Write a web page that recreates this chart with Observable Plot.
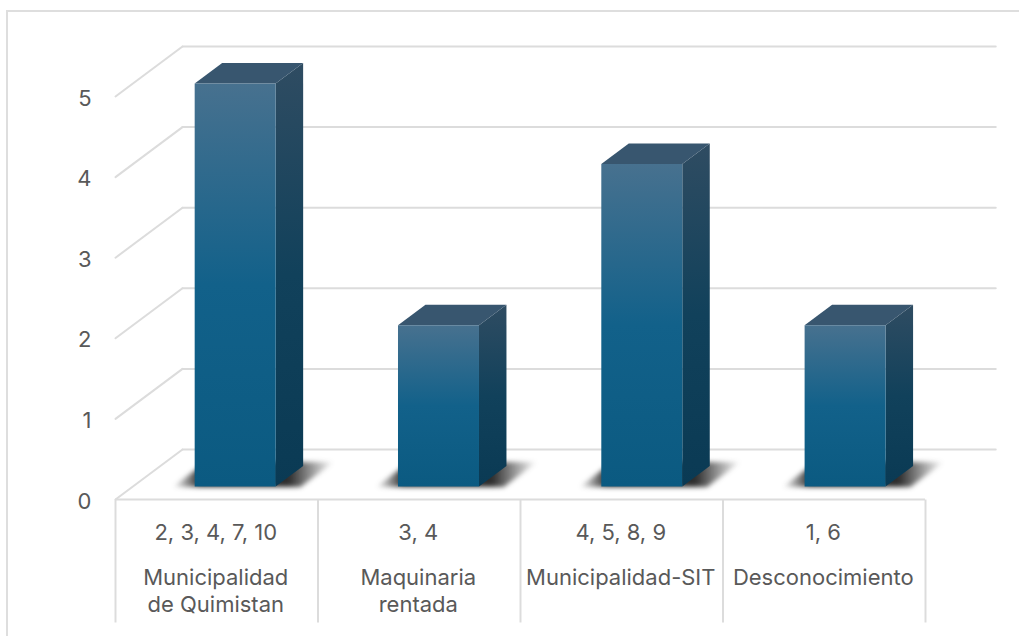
<!DOCTYPE html>
<html lang="es">
<head>
<meta charset="utf-8">
<script src="https://cdn.jsdelivr.net/npm/d3@7"></script>
<script src="https://cdn.jsdelivr.net/npm/@observablehq/plot@0.6"></script>
<style>
  html, body { margin: 0; padding: 0; background: #fff; }
  #chart { position: relative; width: 1019px; height: 636px; overflow: hidden; }
  #chart::before {
    content: ""; position: absolute; left: 6px; top: 10px; right: -4px; bottom: -4px;
    border: 2px solid #dedede;
  }
  #chart svg { position: absolute; left: 0; top: 0; }
</style>
</head>
<body>
<div id="chart"></div>
<script>
// Respuestas por fuente de información
const categories = ["Municipalidad\nde Quimistan", "Maquinaria\nrentada", "Municipalidad-SIT", "Desconocimiento"];
const respondents = ["2, 3, 4, 7, 10", "3, 4", "4, 5, 8, 9", "1, 6"];
const counts = [5, 2, 4, 2];
const valueTicks = [0, 1, 2, 3, 4, 5];

const font = "Inter, 'Noto Sans', sans-serif";
const ink = "#595959";
const gridColor = "#dcdcdc";
const textSize = 22;

const xRange = [115, 925];
const yRange = [499, 96];
const xUnit = (xRange[1] - xRange[0]) / categories.length;
const yUnit = (yRange[0] - yRange[1]) / 5;

// Oblique projection: a point at depth z (0 = front, 1 = back wall) in data units.
const depthX = 67 / xUnit;
const depthY = 50 / yUnit;
const at = (x, y, z) => ({x: x + z * depthX, y: y + z * depthY});

const polygon = (id, corners) => corners.map(([x, y, z]) => ({id, ...at(x, y, z)}));

// Bars sit on a slightly wider pitch than the table cells below them.
const barStep = 1.004;
const barLeft = 0.305, barRight = 0.705, zFront = 0.26, zBack = 0.67;
const slot = (i) => i * barStep;

const fronts = counts.flatMap((v, i) => polygon(i, [
  [slot(i) + barLeft, 0, zFront], [slot(i) + barRight, 0, zFront],
  [slot(i) + barRight, v, zFront], [slot(i) + barLeft, v, zFront]
]));
const sides = counts.flatMap((v, i) => polygon(i, [
  [slot(i) + barRight, 0, zFront], [slot(i) + barRight, 0, zBack],
  [slot(i) + barRight, v, zBack], [slot(i) + barRight, v, zFront]
]));
const tops = counts.flatMap((v, i) => polygon(i, [
  [slot(i) + barLeft, v, zFront], [slot(i) + barRight, v, zFront],
  [slot(i) + barRight, v, zBack], [slot(i) + barLeft, v, zBack]
]));
const shadows = counts.flatMap((v, i) => polygon(i, [
  [slot(i) + 0.2, 0, 0.25], [slot(i) + 0.83, 0, 0.25],
  [slot(i) + 0.83, 0, 0.75], [slot(i) + 0.2, 0, 0.75]
]));

// Back wall gridlines and the receding lines on the left wall.
const wallEnd = categories.length * barStep;
const wallLines = valueTicks.flatMap((v) => [
  {id: `w${v}`, ...at(0, v, 1)}, {id: `w${v}`, ...at(wallEnd, v, 1)}
]);
const sideLines = valueTicks.flatMap((v) => [
  {id: `s${v}`, ...at(0, v, 0)}, {id: `s${v}`, ...at(0, v, 1)}
]);

const svgDefs = () => {
  const g = document.createElementNS("http://www.w3.org/2000/svg", "defs");
  g.innerHTML = `
    <linearGradient id="faceFill" x1="0" y1="0" x2="0" y2="1">
      <stop offset="0" stop-color="#47718f"/>
      <stop offset="0.5" stop-color="#12618a"/>
      <stop offset="1" stop-color="#0b5a81"/>
    </linearGradient>
    <linearGradient id="sideFill" x1="0" y1="0" x2="0" y2="1">
      <stop offset="0" stop-color="#2f4c62"/>
      <stop offset="0.5" stop-color="#11415b"/>
      <stop offset="1" stop-color="#0a3a54"/>
    </linearGradient>
    <linearGradient id="shadowFill" x1="0" y1="0" x2="1" y2="0">
      <stop offset="0" stop-color="#222" stop-opacity="0"/>
      <stop offset="0.17" stop-color="#222" stop-opacity="0.95"/>
      <stop offset="0.72" stop-color="#222" stop-opacity="0.95"/>
      <stop offset="1" stop-color="#222" stop-opacity="0"/>
    </linearGradient>`;
  return g;
};

const chart = Plot.plot({
  width: 1019,
  height: 636,
  margin: 0,
  x: {type: "linear", domain: [0, categories.length], range: xRange, axis: null},
  y: {type: "linear", domain: [0, 5], range: yRange, axis: null},
  style: {background: "transparent", fontFamily: font},
  marks: [
    svgDefs,
    Plot.line(wallLines, {x: "x", y: "y", z: "id", stroke: gridColor, strokeWidth: 2}),
    Plot.line(sideLines, {x: "x", y: "y", z: "id", stroke: gridColor, strokeWidth: 2}),

    // Category table under the floor
    Plot.ruleY([0], {x1: 0, x2: categories.length, stroke: gridColor, strokeWidth: 2}),
    Plot.link(d3.range(categories.length + 1), {
      x1: (d) => d, x2: (d) => d, y1: () => 0, y2: () => -123 / yUnit,
      stroke: gridColor, strokeWidth: 2
    }),

    // Bars
    Plot.line(shadows, {x: "x", y: "y", z: "id", fill: "url(#shadowFill)", stroke: "none", imageFilter: "blur(2.5px)"}),
    Plot.line(sides, {x: "x", y: "y", z: "id", fill: "url(#sideFill)", stroke: "none"}),
    Plot.line(tops, {x: "x", y: "y", z: "id", fill: "#38566f", stroke: "none"}),
    Plot.line(fronts, {x: "x", y: "y", z: "id", fill: "url(#faceFill)", stroke: "none"}),

    // Value labels
    Plot.text(valueTicks, {
      x: () => 0, y: (d) => d, text: (d) => String(d), textAnchor: "end", dx: -24, dy: 2,
      fontSize: textSize, fill: ink
    }),
    // Respondent numbers and category names
    Plot.text(respondents, {
      x: (d, i) => i + 0.5, y: () => 0, text: (d) => d, dx: -1, dy: 33,
      fontSize: textSize, fill: ink
    }),
    Plot.text(categories, {
      x: (d, i) => i + 0.5, y: () => 0, text: (d) => d, dx: -1, dy: 66, lineAnchor: "top", lineHeight: 1.23,
      fontSize: textSize, fill: ink
    })
  ]
});

document.getElementById("chart").appendChild(chart);
</script>
</body>
</html>
